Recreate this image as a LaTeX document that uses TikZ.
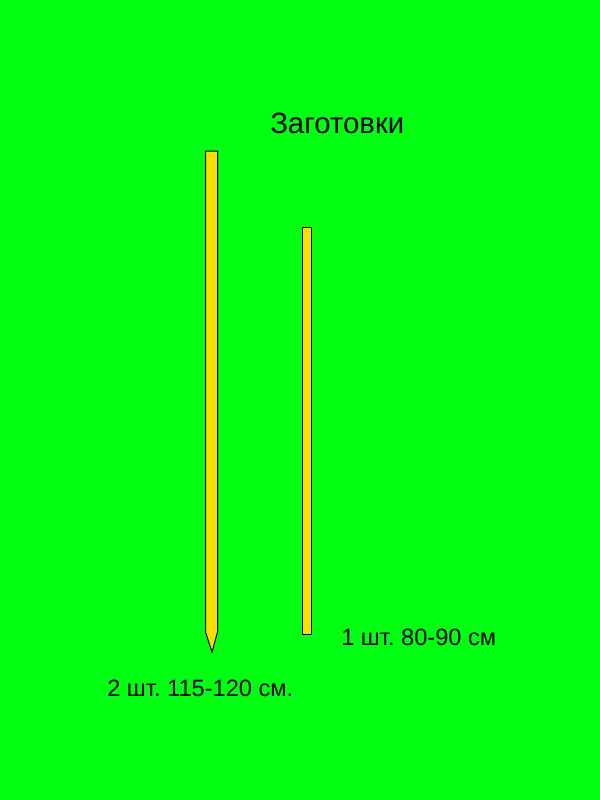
\documentclass[tikz,border=0pt]{standalone}
\usepackage{fontspec}
\setmainfont{Liberation Sans}
\usepackage{tikz}
\frenchspacing

\begin{document}
\begin{tikzpicture}[x=0.75pt,y=0.75pt,yscale=-1,xscale=1]
\tikzset{stick/.style={draw=black,line width=0.75pt,fill={rgb, 255:red, 250; green, 222; blue, 0 }},
         label/.style={anchor=base west,inner sep=0pt}}
\fill [fill={rgb, 255:red, 0; green, 255; blue, 16 }] (0,0) rectangle (600,800) ;
\useasboundingbox (0,0) rectangle (600,800) ;
%long stick
\draw [stick] (205.5,151) -- (217.5,151) -- (217.5,632) -- (212,652) -- (205.5,632) -- cycle ;
%short stick
\draw [stick] (302.5,227.5) -- (311.5,227.5) -- (311.5,634) -- (302.5,634) -- cycle ;
\node [label] (title) at (270,133) {\fontsize{22}{26}\selectfont Заготовки};
\node [label] (long) at (107,696) {\fontsize{17.7}{21}\selectfont 2 шт. 115-120 см.};
\node [label] (short) at (341,645) {\fontsize{17.7}{21}\selectfont 1 шт. 80-90 см};
\end{tikzpicture}
\end{document}
